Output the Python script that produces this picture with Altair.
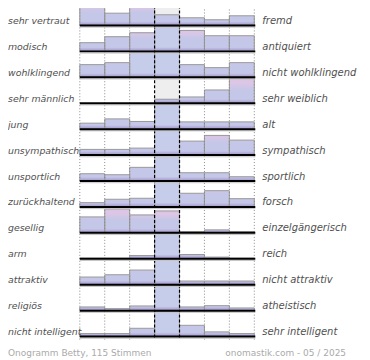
import altair as alt
import pandas as pd

left_labels = ["sehr vertraut", "modisch", "wohlklingend", "sehr männlich", "jung",
               "unsympathisch", "unsportlich", "zurückhaltend", "gesellig", "arm",
               "attraktiv", "religiös", "nicht intelligent"]
right_labels = ["fremd", "antiquiert", "nicht wohlklingend", "sehr weiblich", "alt",
                "sympathisch", "sportlich", "forsch", "einzelgängerisch", "reich",
                "nicht attraktiv", "atheistisch", "sehr intelligent"]

# bar heights per row (7 bins, left pole -> right pole); values above 25 are cut off
bar_values = [
    [24.0, 12.3, 19.7, 10.7, 7.7, 5.7, 9.7],
    [8.7, 14.7, 18.7, 32.0, 21.0, 15.7, 15.7],
    [12.7, 14.7, 28.0, 30.0, 12.7, 9.7, 14.7],
    [0.0, 0.0, 0.0, 4.0, 6.3, 13.3, 25.0],
    [6.0, 10.3, 7.7, 45.0, 7.3, 7.3, 7.3],
    [5.7, 5.7, 7.0, 40.0, 14.0, 19.7, 15.0],
    [7.3, 6.3, 13.7, 45.0, 8.3, 8.3, 4.3],
    [4.3, 7.7, 8.7, 40.0, 13.7, 16.3, 8.3],
    [16.0, 24.0, 18.0, 22.0, 1.3, 3.0, 1.3],
    [0.7, 0.7, 3.3, 80.0, 4.3, 1.7, 0.7],
    [7.7, 10.0, 14.7, 50.0, 3.7, 3.7, 3.7],
    [3.7, 2.0, 4.7, 70.0, 3.7, 5.0, 2.7],
    [3.0, 3.0, 8.3, 55.0, 11.3, 4.7, 3.0],
]
shaded_rows = [0, 1, 2, 3]
center_bin = 3
dotted_edges = [0, 1, 2, 5, 6, 7]
dashed_edges = [3, 4]
footer_left = "Onogramm Betty, 115 Stimmen"
footer_right = "onomastik.com - 05 / 2025"

records = [{"row": i, "bin": j, "v": v}
           for i, vals in enumerate(bar_values) for j, v in enumerate(vals)]
bars_df = pd.DataFrame(records)
labels_df = pd.DataFrame({"row": list(range(len(left_labels))),
                          "left": left_labels, "right": right_labels})

BASE = "25 + 26 * datum.row"
xs = alt.Scale(domain=[0, 7], nice=False, zero=False)
ys = alt.Scale(domain=[8, 360], reverse=True, nice=False, zero=False)

X = alt.X("x0:Q", scale=xs, axis=None)
X2 = alt.X2("x1:Q")

bars = alt.Chart(bars_df).transform_calculate(
    base=BASE, x0="datum.bin", x1="datum.bin + 1"
).transform_calculate(
    top="datum.base - min(datum.v, 25)"
)

bg = alt.Chart(pd.DataFrame({"row": shaded_rows, "bin": [center_bin] * len(shaded_rows)})).transform_calculate(
    base=BASE, top="datum.base - 26", x0="datum.bin", x1="datum.bin + 1"
).mark_rect(fill="#eeeeee").encode(
    x=X, x2=X2, y=alt.Y("top:Q", scale=ys, axis=None), y2="base:Q"
)

main = bars.transform_filter("datum.v > 0").mark_rect().encode(
    x=X, x2=X2, y=alt.Y("top:Q", scale=ys, axis=None), y2="base:Q",
    color=alt.condition(alt.datum.v > 25.5, alt.value("#c6cdea"), alt.value("#c4c7e7")),
)

pink_grad = alt.LinearGradient(
    gradient="linear", x1=0, x2=0, y1=1, y2=0,
    stops=[alt.GradientStop(color="#c4c7e7", offset=0),
           alt.GradientStop(color="#ddc6e6", offset=0.6),
           alt.GradientStop(color="#dcc5e4", offset=1)],
)
pink = bars.transform_filter("datum.v > 14 && datum.v <= 25.5").transform_calculate(
    pb="datum.base - 13", op="min(1, (datum.v - 13) / 9)"
).mark_rect(fill=pink_grad).encode(
    x=X, x2=X2, y=alt.Y("top:Q", scale=ys, axis=None), y2="pb:Q",
    opacity=alt.Opacity("op:Q", scale=None),
)

purple_grad = alt.LinearGradient(
    gradient="linear", x1=0, x2=0, y1=1, y2=0,
    stops=[alt.GradientStop(color="#a092ca", offset=0),
           alt.GradientStop(color="#c4c7e7", offset=1)],
)
strip = bars.transform_filter("datum.v > 0").transform_calculate(
    sb="datum.base - min(datum.v, 4)"
).mark_rect(fill=purple_grad).encode(
    x=X, x2=X2, y=alt.Y("sb:Q", scale=ys, axis=None), y2="base:Q"
)

outline = bars.transform_filter("datum.v > 0").mark_rect(
    fillOpacity=0, stroke="#9a9a9a", strokeWidth=1
).encode(x=X, x2=X2, y=alt.Y("top:Q", scale=ys, axis=None), y2="base:Q")

dotted = alt.Chart(pd.DataFrame({"e": dotted_edges})).transform_calculate(
    ya="0", yb="340"
).mark_rule(color="#8a8a8a", strokeDash=[1, 2], strokeWidth=1).encode(
    x=alt.X("e:Q", scale=xs, axis=None), y=alt.Y("ya:Q", scale=ys, axis=None), y2="yb:Q"
)
dashed = alt.Chart(pd.DataFrame({"e": dashed_edges})).transform_calculate(
    ya="0", yb="340"
).mark_rule(color="#000000", strokeDash=[3, 2], strokeWidth=1.2).encode(
    x=alt.X("e:Q", scale=xs, axis=None), y=alt.Y("ya:Q", scale=ys, axis=None), y2="yb:Q"
)

rows = alt.Chart(labels_df).transform_calculate(base=BASE, xa="0", xb="7.04")
shadow = rows.transform_calculate(sh="datum.base + 1.7").mark_rule(
    color="#c4c4c4", strokeWidth=1
).encode(x=alt.X("xa:Q", scale=xs, axis=None), x2="xb:Q", y=alt.Y("sh:Q", scale=ys, axis=None))
baseline = rows.mark_rule(color="#000000", strokeWidth=2).encode(
    x=alt.X("xa:Q", scale=xs, axis=None), x2="xb:Q", y=alt.Y("base:Q", scale=ys, axis=None)
)

txt_style = dict(baseline="alphabetic", font="DejaVu Sans", fontStyle="italic", color="#505050")
lab = rows.transform_calculate(lab="datum.base - 1.5")
left_txt = lab.mark_text(align="left", fontSize=9.4, **txt_style).encode(
    x=alt.value(-72), y=alt.Y("lab:Q", scale=ys, axis=None), text="left:N"
)
right_txt = lab.mark_text(align="left", fontSize=10, **txt_style).encode(
    x=alt.value(183), y=alt.Y("lab:Q", scale=ys, axis=None), text="right:N"
)

foot_style = dict(baseline="alphabetic", font="DejaVu Sans", fontSize=9, color="#aaaaaa")
foot_l = alt.Chart(pd.DataFrame({"t": [footer_left]})).transform_calculate(fy="356").mark_text(
    align="left", **foot_style
).encode(x=alt.value(-72), y=alt.Y("fy:Q", scale=ys, axis=None), text="t:N")
foot_r = alt.Chart(pd.DataFrame({"t": [footer_right]})).transform_calculate(fy="356").mark_text(
    align="right", **foot_style
).encode(x=alt.value(267), y=alt.Y("fy:Q", scale=ys, axis=None), text="t:N")

chart = alt.layer(
    bg, main, pink, strip, outline, dotted, dashed, shadow, baseline,
    left_txt, right_txt, foot_l, foot_r
).properties(
    width=175, height=352,
    autosize=alt.AutoSizeParams(type="none"),
    padding={"left": 72, "top": 0, "right": 108, "bottom": 0},
).configure_view(stroke=None)

chart.save("out.html", embed_options={"renderer": "svg", "actions": False})
